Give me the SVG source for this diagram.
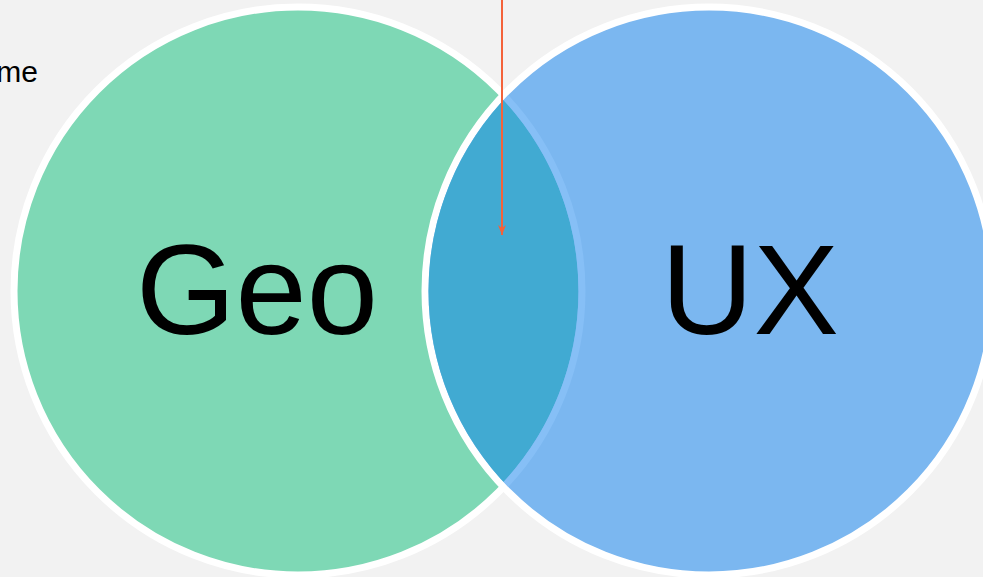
<svg xmlns="http://www.w3.org/2000/svg" width="983" height="577" viewBox="0 0 983 577">
<defs>
<style>
.lbl{font-family:"Liberation Sans",Arial,sans-serif;fill:#000}
</style>
<clipPath id="rightIn"><circle cx="709" cy="291" r="280.5"/></clipPath>
<marker id="arr" viewBox="0 0 10 10" refX="10" refY="5" markerWidth="10" markerHeight="10" markerUnits="userSpaceOnUse" orient="auto">
<path d="M0,1 L10,5 L0,9 L3,5 Z" fill="#f4623a"/>
</marker>
</defs>
<rect width="983" height="577" fill="#f2f2f2"/>
<text class="lbl" x="38" y="82" font-size="30" text-anchor="end">me</text>
<g id="geo">
<circle cx="298" cy="291" r="284" fill="#7ed8b5" stroke="#ffffff" stroke-width="7"/>
<text class="lbl" x="257" y="334" font-size="128" text-anchor="middle">Geo</text>
</g>
<g id="ux">
<circle cx="709" cy="291" r="284" fill="#7bb7f0" stroke="#ffffff" stroke-width="7"/>
<g clip-path="url(#rightIn)">
<circle cx="298" cy="291" r="280.5" fill="#41aad2"/>
<circle cx="298" cy="291" r="284" fill="none" stroke="#86bff6" stroke-width="7"/>
</g>
<text class="lbl" x="750" y="334" font-size="128" text-anchor="middle">UX</text>
</g>
<g id="connectors">
<line x1="502" y1="0" x2="502" y2="235" stroke="#f4623a" stroke-width="2" marker-end="url(#arr)"/>
</g>
</svg>
